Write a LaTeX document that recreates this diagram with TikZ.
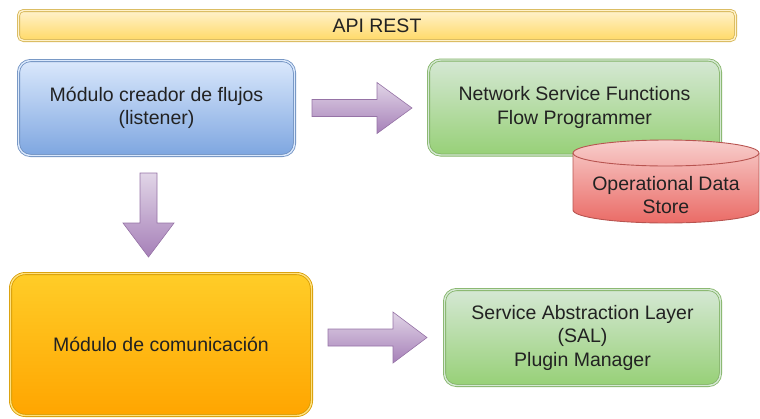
\documentclass[tikz,border=0pt]{standalone}
\usepackage{fontspec}
\setmainfont{Liberation Sans}
\definecolor{txt}{HTML}{222222}
\definecolor{yeltop}{HTML}{FFF2CC}\definecolor{yelbot}{HTML}{FFD966}\definecolor{yelstroke}{HTML}{D6B656}
\definecolor{bluetop}{HTML}{DAE8FC}\definecolor{bluebot}{HTML}{7EA6E0}\definecolor{bluestroke}{HTML}{6C8EBF}
\definecolor{greentop}{HTML}{D5E8D4}\definecolor{greenbot}{HTML}{97D077}\definecolor{greenstroke}{HTML}{82B366}
\definecolor{orangetop}{HTML}{FFCD28}\definecolor{orangebot}{HTML}{FFA500}\definecolor{orangestroke}{HTML}{D79B00}
\definecolor{redtop}{HTML}{F8CECC}\definecolor{redbot}{HTML}{EA6B66}\definecolor{redstroke}{HTML}{B85450}
\definecolor{purtop}{HTML}{E1D5E7}\definecolor{purbot}{HTML}{A680B8}\definecolor{purstroke}{HTML}{9673A6}
\begin{document}
\begin{tikzpicture}[x=1pt,y=1pt,
  lbl/.style={align=center, text=txt, font=\fontsize{19.5}{23.5}\selectfont, inner sep=0pt},
  box/.style={lbl, rectangle, line width=0.8pt, double distance=1.4pt},
  barbox/.style={box, rounded corners=5pt, draw=yelstroke, double=yeltop, top color=yeltop, bottom color=yelbot},
  bluebox/.style={box, rounded corners=12pt, draw=bluestroke, double=bluetop, top color=bluetop, bottom color=bluebot},
  greenbox/.style={box, rounded corners=12pt, draw=greenstroke, double=greentop, top color=greentop, bottom color=greenbot},
  orangebox/.style={box, rounded corners=15pt, draw=orangestroke, double=orangetop!60!white, top color=orangetop, bottom color=orangebot},
  parrow/.style={top color=purtop, bottom color=purbot, draw=purstroke, line width=0.6pt, line join=miter},
  dbshape/.style={top color=redtop, bottom color=redbot, draw=redstroke, line width=0.9pt}
]
\useasboundingbox (0,0) rectangle (760,-418);

% API REST bar
\node[barbox, minimum width=717pt, minimum height=30pt] (api) at (377,-25.5) {API REST};

% boxes
\node[bluebox, minimum width=276pt, minimum height=95pt] (creador) at (156.5,-108) {Módulo creador de flujos\\(listener)};
\node[greenbox, minimum width=292pt, minimum height=95pt] (nsf) at (574.5,-107.5) {Network Service Functions\\Flow Programmer};
\node[orangebox, minimum width=301pt, minimum height=142pt] (comm) at (161,-344.5) {Módulo de comunicación};
\node[greenbox, minimum width=276pt, minimum height=96pt] (sal) at (582.5,-337.5) {Service Abstraction Layer\\(SAL)\\Plugin Manager};

% cylinder (Operational Data Store)
\path[dbshape] (573,-153) -- (573,-210)
  arc[start angle=180, end angle=360, x radius=93, y radius=13]
  -- (759,-153)
  arc[start angle=0, end angle=180, x radius=93, y radius=13] -- cycle;
\draw[redstroke, line width=0.9pt] (573,-153) arc[start angle=180, end angle=360, x radius=93, y radius=13];
\node[lbl] (ods) at (666,-195) {Operational Data\\Store};

% block arrows
\path[parrow] (312,-99.5) -- (377,-99.5) -- (377,-82.5) -- (412,-108) -- (377,-133.5) -- (377,-116.5) -- (312,-116.5) -- cycle;
\path[parrow] (140,-173) -- (157,-173) -- (157,-223) -- (174,-223) -- (148.5,-257) -- (123,-223) -- (140,-223) -- cycle;
\path[parrow] (328,-329) -- (393,-329) -- (393,-312) -- (427,-337.5) -- (393,-363) -- (393,-346) -- (328,-346) -- cycle;
\end{tikzpicture}
\end{document}
